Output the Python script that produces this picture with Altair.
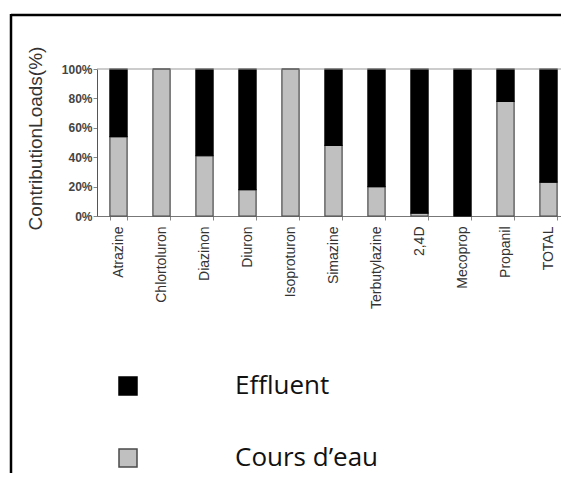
import altair as alt
import pandas as pd

categories = ["Atrazine", "Chlortoluron", "Diazinon", "Diuron", "Isoproturon",
              "Simazine", "Terbutylazine", "2,4D", "Mecoprop", "Propanil", "TOTAL"]
cours_eau = [54, 100, 41, 18, 100, 48, 20, 2, 0, 78, 23]
effluent = [100 - v for v in cours_eau]
series_names = ["Effluent", "Cours d’eau"]
y_ticks = [0, 20, 40, 60, 80, 100]

rows = []
for c, ce, ef in zip(categories, cours_eau, effluent):
    rows.append({"cat": c, "series": series_names[1], "value": ce, "ord": 0})
    rows.append({"cat": c, "series": series_names[0], "value": ef, "ord": 1})
df = pd.DataFrame(rows)

W, H = 464, 147
XR = 473

leg = alt.Legend(
    title=None, orient="none", legendX=18, legendY=304,
    symbolType="square", symbolSize=324, symbolStrokeWidth=1.5,
    labelFont="Open Sans", labelFontSize=26, labelColor="#111",
    labelOffset=94, rowPadding=46, padding=0, labelLimit=400,
)

yaxis = alt.Axis(values=y_ticks, labelExpr="datum.value + '%'",
                 labelOverlap=False, labelFlush=False,
                 title="ContributionLoads(%)", titleFont="Liberation Sans",
                 titleFontSize=19, titleFontWeight="normal", titleColor="#333",
                 titleX=-52, titleY=69, titleAngle=270, titleBaseline="bottom",
                 titleAlign="center",
                 labelFont="Liberation Sans", labelFontSize=12,
                 labelFontWeight="bold", labelColor="#444",
                 tickSize=4, tickColor="#888", domainColor="#555",
                 labelPadding=1, grid=False)
yscale = alt.Scale(domain=[0, 100], nice=False)

bars = alt.Chart(df).mark_bar(strokeWidth=1.2).encode(
    x=alt.X("cat:N", sort=categories,
            scale=alt.Scale(range=[0, XR], paddingInner=0.6, paddingOuter=0.3),
            axis=alt.Axis(title=None, labelAngle=270, labelFont="Liberation Sans",
                          labelFontSize=14, labelColor="#333", tickBand="extent",
                          tickSize=4, tickColor="#888", domainColor="#777",
                          labelPadding=6)),
    y=alt.Y("value:Q", stack="zero", scale=yscale, axis=yaxis),
    color=alt.Color("series:N", scale=alt.Scale(domain=series_names, range=["#000000", "#c0c0c0"]),
                    legend=leg),
    stroke=alt.Stroke("series:N", scale=alt.Scale(domain=series_names, range=["#000000", "#4a4a4a"]),
                      legend=leg),
    order=alt.Order("ord:Q"),
)

top_df = pd.DataFrame({"v": [100]})
top_line = alt.Chart(top_df).mark_rule(color="#999", strokeWidth=1).encode(
    y=alt.Y("v:Q", scale=yscale, axis=yaxis), x=alt.value(0), x2=alt.value(W)
)

frame_top = alt.Chart(top_df).mark_rule(color="#000", strokeWidth=2.5).encode(
    x=alt.value(-86), x2=alt.value(W), y=alt.value(-54)
)
frame_left = alt.Chart(top_df).mark_rule(color="#000", strokeWidth=2.5).encode(
    x=alt.value(-86), y=alt.value(-55), y2=alt.value(420)
)

chart = alt.layer(frame_top, frame_left, bars, top_line).properties(
    width=W, height=H,
    autosize=alt.AutoSizeParams(type="none"),
    padding={"left": 89, "top": 61, "right": 0, "bottom": 257},
    background="white",
).configure_view(stroke=None)

chart.save("out.html", embed_options={"renderer": "svg", "actions": False})
